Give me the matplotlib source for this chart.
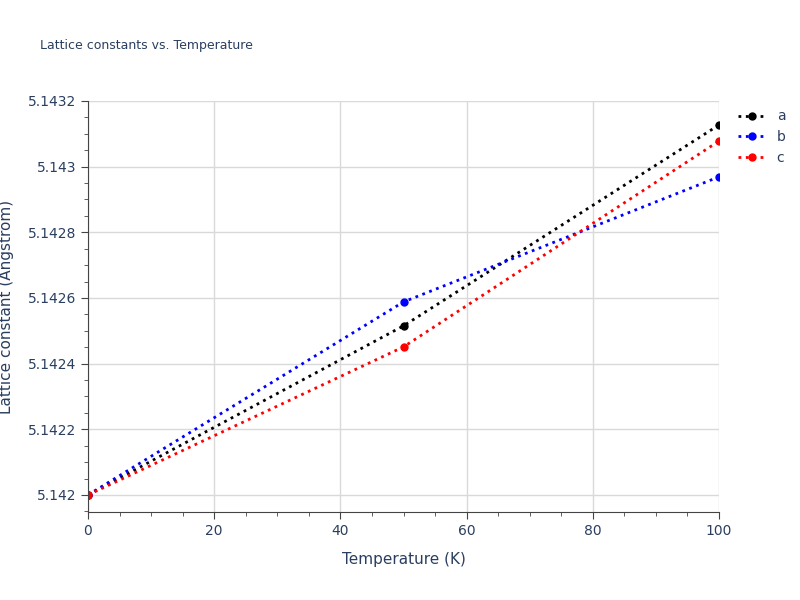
import matplotlib
matplotlib.use("Agg")
import matplotlib.pyplot as plt
from matplotlib.ticker import MultipleLocator, FuncFormatter

temps = [0, 50, 100]
a_vals = [5.1420, 5.142515, 5.143127]
b_vals = [5.1420, 5.142588, 5.142969]
c_vals = [5.1420, 5.142451, 5.143078]
names = ["a", "b", "c"]
colors = ["black", "blue", "red"]

fig = plt.figure(figsize=(8, 6), dpi=100)
ax = fig.add_axes([88/800, 1-512/600, (719-88)/800, (512-101)/600])
for vals, n, c in zip([a_vals, b_vals, c_vals], names, colors):
    ax.plot(temps, vals, ":", color=c, marker="o", markersize=5, lw=2, label=n)
ax.set_xlim(0, 100)
ax.set_ylim(5.141948, 5.1432)
ax.xaxis.set_major_locator(MultipleLocator(20))
ax.xaxis.set_minor_locator(MultipleLocator(5))
ax.yaxis.set_major_locator(MultipleLocator(0.0002))
ax.yaxis.set_minor_locator(MultipleLocator(0.00005))
ax.yaxis.set_major_formatter(FuncFormatter(lambda v, p: f"{v:.4f}".rstrip("0")))
ax.grid(True, which="major", color="#d9d9d9", lw=1)
ax.set_axisbelow(True)
for s in ["top", "right"]:
    ax.spines[s].set_visible(False)
for s in ["left", "bottom"]:
    ax.spines[s].set_color("#444444")
tc = "#2a3f5f"
ax.tick_params(colors="#444444", labelcolor=tc, labelsize=10)
ax.tick_params(which="major", length=5)
ax.tick_params(which="minor", length=3, color="#444444")
ax.set_xlabel("Temperature (K)", color=tc, fontsize=11, labelpad=10)
ax.set_ylabel("Lattice constant (Angstrom)", color=tc, fontsize=11, labelpad=10)
fig.text(40/800, 1-46/600, "Lattice constants vs. Temperature", color=tc, fontsize=9, va="center")
leg = ax.legend(loc="upper left", bbox_to_anchor=(1.01, 1.01), frameon=False, fontsize=10,
                handlelength=2, labelcolor=tc)
fig.savefig("out.png", dpi=100)
